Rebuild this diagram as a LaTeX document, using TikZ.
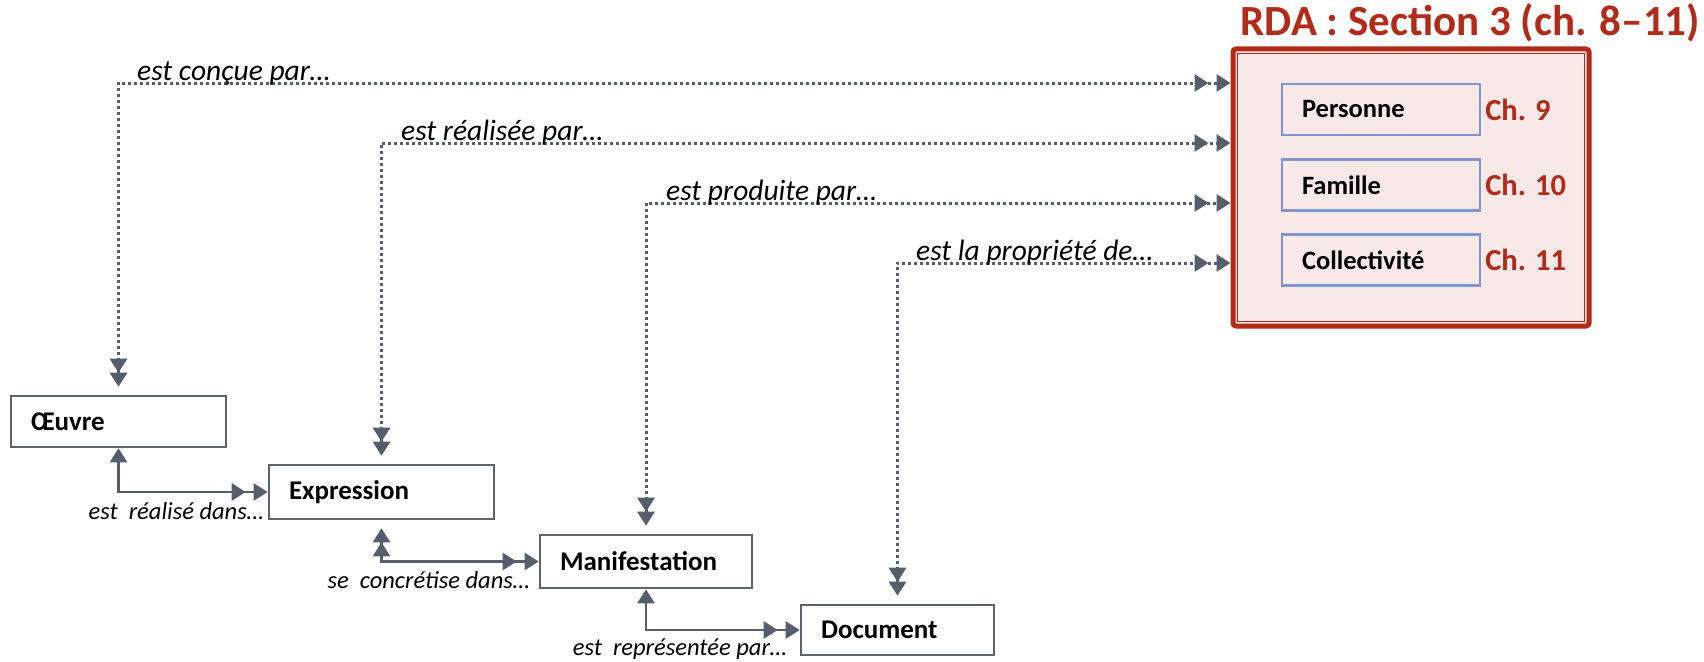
\documentclass[tikz,border=0pt]{standalone}
\usepackage{fontspec}
\setmainfont{Carlito}
\usetikzlibrary{arrows.meta,calc}
\definecolor{rdared}{RGB}{178,42,24}
\definecolor{rdapink}{RGB}{248,233,232}
\definecolor{rdablue}{RGB}{128,149,204}
\definecolor{con}{RGB}{86,93,109}
\definecolor{entgray}{RGB}{95,99,110}
\begin{document}
\begin{tikzpicture}[x=1pt,y=-1pt,
  entity/.style={draw=entgray, line width=2.6pt, fill=white, inner xsep=20pt, inner ysep=0pt,
    align=left, font=\fontsize{27}{32}\selectfont\bfseries},
  agent/.style={draw=rdablue, line width=2.2pt, inner xsep=20pt, inner ysep=0pt, align=left,
    text width=158pt, minimum height=51pt, font=\fontsize{26.5}{31}\selectfont\bfseries},
  chap/.style={anchor=west, inner sep=0pt, text=rdared, font=\fontsize{30.5}{36}\selectfont\bfseries},
  toplab/.style={anchor=base west, inner sep=0pt, font=\fontsize{29.5}{35}\selectfont\itshape},
  botlab/.style={anchor=base east, inner sep=0pt, font=\fontsize{24.5}{29}\selectfont\itshape},
  dcon/.style={draw=con, line width=3pt, dash pattern=on 3pt off 3pt,
    arrows={Triangle[length=14pt,width=17pt,sep=8pt] Triangle[length=14pt,width=17pt]-Triangle[length=14pt,width=17pt,sep=8pt] Triangle[length=14pt,width=17pt]}},
  scon/.style={draw=con, line width=2.7pt},
  one/.style={arrows={Triangle[length=14pt,width=17pt]-Triangle[length=14pt,width=17pt,sep=8pt] Triangle[length=14pt,width=17pt]}},
  two/.style={arrows={Triangle[length=14pt,width=17pt,sep=8pt] Triangle[length=14pt,width=17pt]-Triangle[length=14pt,width=17pt,sep=8pt] Triangle[length=14pt,width=17pt]}}
]
\useasboundingbox (0,0) rectangle (1704,661);

% RDA box
\node[draw=rdared, line width=5pt, fill=rdapink, rounded corners=3pt, minimum width=356pt, minimum height=277pt, inner sep=0pt] (rda) at (1411,187.5) {};
\draw[rdared, line width=1.3pt] ([shift={(7,7)}]rda.north west) rectangle ([shift={(-7,-7)}]rda.south east);
\node[anchor=base west, inner sep=0pt, text=rdared, font=\fontsize{43}{50}\selectfont\bfseries] (title) at ([shift={(10,-11)}]rda.north west) {RDA : Section 3 (ch. 8–11)};

\node[agent] (personne) at (1381,109.5) {Personne};
\node[agent] (famille) at (1381,185) {Famille};
\node[agent] (collect) at (1381,260) {Collectivité};
\node[chap] (ch9) at ([xshift=4pt]personne.east) {Ch. 9};
\node[chap] (ch10) at ([xshift=4pt]famille.east) {Ch. 10};
\node[chap] (ch11) at ([xshift=4pt]collect.east) {Ch. 11};

% entities
\node[entity, text width=175pt, minimum height=51pt] (oeuvre) at (118.5,421.5) {Œuvre};
\node[entity, text width=185pt, minimum height=54pt] (expression) at (381.5,492) {Expression};
\node[entity, text width=172pt, minimum height=53pt] (manif) at (646,561.5) {Manifestation};
\node[entity, text width=153pt, minimum height=50pt] (document) at (897.5,630) {Document};

% levels
\coordinate (y1) at (0,83);
\coordinate (y2) at (0,143);
\coordinate (y3) at (0,203);
\coordinate (y4) at (0,263);

\draw[dcon] (oeuvre.north) |- (rda.west |- y1);
\draw[dcon] (expression.north) |- (rda.west |- y2);
\draw[dcon] (manif.north) |- (rda.west |- y3);
\draw[dcon] (document.north) |- (rda.west |- y4);

\node[toplab] (l1) at (137,80) {est conçue par…};
\node[toplab] (l2) at (401,140) {est réalisée par…};
\node[toplab] (l3) at (666,200) {est produite par…};
\node[toplab] (l4) at (916,260) {est la propriété de…};

\draw[scon, one] (oeuvre.south) |- (expression.west);
\draw[scon, two] (expression.south) |- (manif.west);
\draw[scon, one] (manif.south) |- (document.west);

\node[botlab] (b1) at (264,519) {est~ réalisé dans…};
\node[botlab] (b2) at (530,588) {se~ concrétise dans…};
\node[botlab] (b3) at (787,655) {est~ représentée par…};
\end{tikzpicture}
\end{document}
